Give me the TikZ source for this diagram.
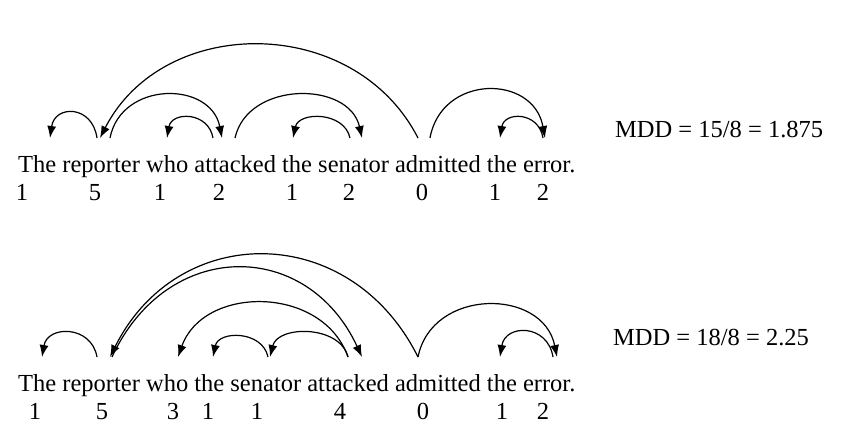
\documentclass[tikz,border=0pt]{standalone}
\usepackage{fontspec}
\setmainfont{Liberation Serif}
\usetikzlibrary{arrows.meta,positioning,calc}
% one dependency arc: [slant]{from}{to}{height}
\newcommand{\deparc}[4][0.1]{\draw[DepArc] (#2) .. controls ($(#2)!#1!(#3)+(0,-#4*4/3)$) and ($(#3)!#1!(#2)+(0,-#4*4/3)$) .. (#3);}

\begin{document}
\begin{tikzpicture}[
x=1pt,y=-1pt,
DepArc/.style={-{Latex[length=12pt,width=9pt]},black,line width=1.2pt},
Words/.style={font=\fontsize{24.5}{28}\selectfont,inner sep=0pt,anchor=base west},
Nums/.style={font=\fontsize{24.5}{28}\selectfont,inner sep=0pt,anchor=base}
]
\useasboundingbox (0,0) rectangle (854,444);

%% upper sentence
\node[Words] (sentu) at (18,172) {The reporter who attacked the senator admitted the error.};
\node[Words,anchor=west] (mddu) at (615,130) {MDD = 15/8 = 1.875};
\foreach \x/\n [count=\i] in {22/1,95/5,160/1,219/2,292/1,349/2,422/0,495/1,543/2}
  \node[Nums] (nu\i) at (\x,200) {\n};

\coordinate (Theu) at (50,138);
\coordinate (repu) at (97,138);
\coordinate (repuin) at (100,138);
\coordinate (repuout) at (110,138);
\coordinate (whou) at (167,138);
\coordinate (attu) at (213,138);
\coordinate (attuin) at (222,138);
\coordinate (attuout) at (235,138);
\coordinate (theu) at (293,138);
\coordinate (senu) at (350,138);
\coordinate (senuin) at (362,138);
\coordinate (admu) at (418,138);
\coordinate (admuout) at (430,138);
\coordinate (the2u) at (500,138);
\coordinate (erru) at (543,138);
\coordinate (erruin) at (545,138);

\deparc{repu}{Theu}{25}
\deparc[0.2]{admu}{repuin}{93}
\deparc{repuout}{attuin}{43}
\deparc{attu}{whou}{20}
\deparc{attuout}{senuin}{43}
\deparc{senu}{theu}{20}
\deparc{admuout}{erruin}{48}
\deparc{erru}{the2u}{20}

%% lower sentence
\node[Words] (sentl) at (18,391) {The reporter who the senator attacked admitted the error.};
\node[Words,anchor=west] (mddl) at (613,338) {MDD = 18/8 = 2.25};
\foreach \x/\n [count=\i] in {35/1,102/5,173/3,208/1,257/1,340/4,423/0,502/1,543/2}
  \node[Nums] (nl\i) at (\x,419) {\n};

\coordinate (Thel) at (42,357);
\coordinate (repl) at (97,357);
\coordinate (replin) at (110,357);
\coordinate (replout) at (112,357);
\coordinate (whol) at (178,357);
\coordinate (thel) at (213,357);
\coordinate (senl) at (268,357);
\coordinate (senlin) at (270,357);
\coordinate (attl) at (348,357);
\coordinate (attlin) at (362,357);
\coordinate (adml) at (418,357);
\coordinate (the2l) at (500,357);
\coordinate (errl) at (553,357);
\coordinate (errlin) at (557,357);

\deparc{repl}{Thel}{24}
\deparc[0.22]{adml}{replin}{102}
\deparc[0.22]{replout}{attlin}{89}
\deparc[0.15]{attl}{whol}{54}
\deparc{attl}{senlin}{24}
\deparc{senl}{thel}{20}
\deparc{adml}{errlin}{52}
\deparc{errl}{the2l}{25}

\end{tikzpicture}
\end{document}
